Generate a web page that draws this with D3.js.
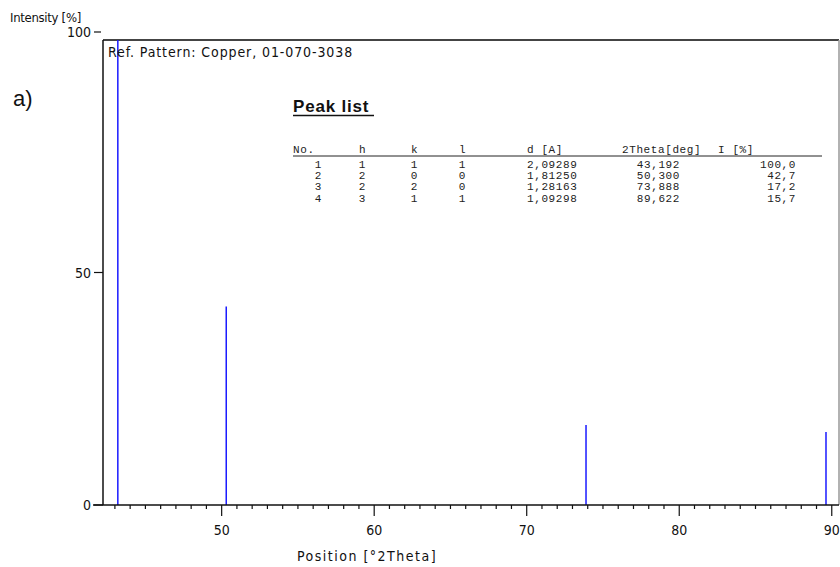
<!DOCTYPE html>
<html>
<head>
<meta charset="utf-8">
<script src="https://cdn.jsdelivr.net/npm/d3@7"></script>
<style>
  body{margin:0;background:#fff;}
  svg{display:block;}
  .ax{font-family:"DejaVu Sans Condensed","Liberation Sans Narrow",sans-serif;font-stretch:condensed;font-size:14px;fill:#111;}
  .tbl{font-family:"Liberation Mono","DejaVu Sans Mono",monospace;font-size:11px;letter-spacing:0.6px;fill:#222;}
</style>
</head>
<body>
<svg id="chart" width="840" height="567"></svg>
<script>
'use strict';

// reference pattern, copper 01-070-3038
var peakNo=[1,2,3,4]
  , peakH=[1,2,2,3]
  , peakK=[1,0,2,1]
  , peakL=[1,0,0,1]
  , peakD=['2,09289','1,81250','1,28163','1,09298']
  , peakPos=[43.192,50.300,73.888,89.622]
  , peakI=[100.0,42.7,17.2,15.7];

var xMajor=[50,60,70,80,90]
  , xMinor=d3.range(43,91)
  , yTicks=[0,50,100];

var svg=d3.select('#chart')
  , pL=103, pR=839, pT=40, pB=505;

var x=d3.scaleLinear().domain([42.22,90.54]).range([pL,840])
  , y=d3.scaleLinear().domain([0,100]).range([pB,pT]);

// frame (top + right)
svg.append('line')
    .attr('x1',pL).attr('x2',pR)
    .attr('y1',pT).attr('y2',pT)
    .attr('stroke','#444').attr('stroke-width',2);
svg.append('line')
    .attr('x1',pR).attr('x2',pR)
    .attr('y1',pT).attr('y2',pB)
    .attr('stroke','#999').attr('stroke-width',1.5);

// sticks
svg.append('clipPath').attr('id','plotclip')
    .append('rect').attr('x',pL).attr('y',pT).attr('width',pR-pL).attr('height',pB-pT);

svg.append('g').attr('clip-path','url(#plotclip)')
    .selectAll('line.peak')
    .data(peakPos)
    .enter().append('line')
    .attr('class','peak')
    .attr('x1',function(d){return x(d);})
    .attr('x2',function(d){return x(d);})
    .attr('y1',y(0))
    .attr('y2',function(d,i){return y(peakI[i]);})
    .attr('stroke','#1a1aff')
    .attr('stroke-width',1.5);

// x axis
var gx=svg.append('g');
gx.append('line')
    .attr('x1',pL-10).attr('x2',pR)
    .attr('y1',pB).attr('y2',pB)
    .attr('stroke','#111').attr('stroke-width',1.5);
gx.selectAll('line.minor')
    .data(xMinor.filter(function(d){return xMajor.indexOf(d)<0;}))
    .enter().append('line')
    .attr('class','minor')
    .attr('x1',function(d){return x(d);}).attr('x2',function(d){return x(d);})
    .attr('y1',pB).attr('y2',pB+4)
    .attr('stroke','#111').attr('stroke-width',1.2);
gx.selectAll('line.major')
    .data(xMajor)
    .enter().append('line')
    .attr('class','major')
    .attr('x1',function(d){return x(d);}).attr('x2',function(d){return x(d);})
    .attr('y1',pB).attr('y2',pB+11)
    .attr('stroke','#111').attr('stroke-width',1.2);
gx.selectAll('text')
    .data(xMajor)
    .enter().append('text')
    .attr('class','ax')
    .attr('x',function(d){return x(d);})
    .attr('y',pB+30)
    .attr('text-anchor','middle')
    .text(function(d){return d;});

// y axis
var gy=svg.append('g');
gy.append('line')
    .attr('x1',pL).attr('x2',pL)
    .attr('y1',pT).attr('y2',pB)
    .attr('stroke','#111').attr('stroke-width',1.5);
gy.selectAll('g.tick')
    .data(yTicks)
    .enter().append('g')
    .attr('class','tick')
    .attr('transform',function(d){
        // top label sits a bit above the frame, as in the original plot
        return 'translate(0,'+(y(d)-(d==100?8:0))+')';
    })
    .each(function(d){
        var t=d3.select(this);
        t.append('line')
            .attr('x1',pL-9).attr('x2',pL-(d==100?2:0))
            .attr('y1',0).attr('y2',0)
            .attr('stroke','#111').attr('stroke-width',1.2);
        t.append('text')
            .attr('class','ax')
            .attr('x',pL-12)
            .attr('y',5)
            .attr('text-anchor','end')
            .text(d);
    });

// axis titles
svg.append('text').attr('class','ax')
    .attr('x',10).attr('y',22)
    .style('font-size','13px')
    .style('letter-spacing','-0.3px')
    .text('Intensity [%]');
svg.append('text').attr('class','ax')
    .attr('x',367).attr('y',561)
    .attr('text-anchor','middle')
    .style('letter-spacing','1.5px')
    .text('Position [°2Theta]');

svg.append('text').attr('class','ax')
    .attr('x',108).attr('y',57)
    .style('letter-spacing','0.9px')
    .text('Ref. Pattern: Copper, 01-070-3038');

svg.append('text')
    .attr('x',13).attr('y',106)
    .style('font-family','"Liberation Sans",Arial,sans-serif')
    .style('font-size','22px')
    .attr('fill','#111')
    .text('a)');

// peak list
svg.append('text')
    .attr('x',293).attr('y',112)
    .style('font-family','"Liberation Sans",Arial,sans-serif')
    .style('font-size','17px')
    .style('font-weight','bold')
    .style('letter-spacing','0.8px')
    .attr('fill','#111')
    .text('Peak list');
svg.append('line')
    .attr('x1',293).attr('x2',374)
    .attr('y1',115.5).attr('y2',115.5)
    .attr('stroke','#111').attr('stroke-width',1.5);

var cols=[
    {head:'No.',hx:293,x:322,anchor:'end',val:peakNo},
    {head:'h',hx:359,x:366,anchor:'end',val:peakH},
    {head:'k',hx:411,x:418,anchor:'end',val:peakK},
    {head:'l',hx:459,x:466,anchor:'end',val:peakL},
    {head:'d [A]',hx:527,x:527,anchor:'start',val:peakD},
    {head:'2Theta[deg]',hx:622,x:680,anchor:'end',val:peakPos.map(function(d){return d.toFixed(3).replace('.',',');})},
    {head:'I [%]',hx:718,x:796,anchor:'end',val:peakI.map(function(d){return d.toFixed(1).replace('.',',');})}
];

var tbl=svg.append('g');
cols.forEach(function(c){
    tbl.append('text').attr('class','tbl')
        .attr('x',c.hx).attr('y',153)
        .style('white-space','pre')
        .text(c.head);
    tbl.selectAll(null)
        .data(c.val)
        .enter().append('text')
        .attr('class','tbl')
        .attr('x',c.x)
        .attr('y',function(d,i){return 167.5+i*11.4;})
        .attr('text-anchor',c.anchor)
        .text(function(d){return d;});
});
tbl.append('line')
    .attr('x1',293).attr('x2',822)
    .attr('y1',156).attr('y2',156)
    .attr('stroke','#222').attr('stroke-width',1);
</script>
</body>
</html>
